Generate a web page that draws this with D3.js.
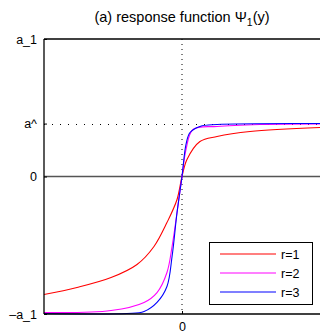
<!DOCTYPE html>
<html><head><meta charset="utf-8">
<script src="https://cdn.jsdelivr.net/npm/d3@7"></script>
<style>body{margin:0;background:#fff}svg{display:block;font-family:"Liberation Sans",Arial,sans-serif}</style>
</head><body>
<script>
const seriesNames = ["r=1","r=2","r=3"];
const seriesColors = ["#ff0000","#ff00ff","#0000ff"];
const xR1 = [-1,-0.761,-0.514,-0.326,-0.203,-0.109,-0.036,0,0.036,0.130,0.254,0.493,1];
const yR1 = [-0.858,-0.807,-0.735,-0.640,-0.509,-0.335,-0.167,0,0.124,0.255,0.291,0.327,0.356];
const xR2 = [-1,-0.514,-0.275,-0.181,-0.109,-0.072,-0.036,0,0.029,0.080,0.254,0.565,1];
const yR2 = [-0.989,-0.975,-0.916,-0.844,-0.698,-0.509,-0.262,0,0.196,0.342,0.364,0.378,0.382];
const xR3 = [-1,-0.399,-0.275,-0.181,-0.109,-0.072,-0.036,0,0.029,0.058,0.130,0.254,1];
const yR3 = [-0.996,-0.996,-0.982,-0.916,-0.800,-0.582,-0.262,0,0.233,0.320,0.364,0.378,0.385];
const yTickValues = [-1,0,0.385,1];
const yTickLabels = ["\u2013a_1","0","a^","a_1"];
const xTickValues = [0];
const xTickLabels = ["0"];
const aHat = 0.385;

const W=320,H=336;
const svg=d3.select("body").append("svg").attr("width",W).attr("height",H);
const x=d3.scaleLinear().domain([-1,1]).range([44,320]);
const y=d3.scaleLinear().domain([-1,1]).range([314,39]);

// title
const t=svg.append("text").attr("x",182).attr("y",22).attr("text-anchor","middle").attr("font-size",14.5).attr("fill","#000");
t.append("tspan").text("(a) response function \u03A8");
t.append("tspan").attr("font-size",10.5).attr("dy",4).text("1");
t.append("tspan").attr("dy",-4).text("(y)");

// reference lines
svg.append("line").attr("x1",x(-1)).attr("x2",x(1)).attr("y1",y(0)).attr("y2",y(0)).attr("stroke","#555").attr("stroke-width",1.3);
svg.append("line").attr("x1",x(0)).attr("x2",x(0)).attr("y1",y(1)).attr("y2",y(-1)).attr("stroke","#000").attr("stroke-width",1).attr("stroke-dasharray","1,4");
svg.append("line").attr("x1",x(-1)).attr("x2",x(1)).attr("y1",Math.round(y(aHat))+0.5).attr("y2",Math.round(y(aHat))+0.5).attr("stroke","#000").attr("stroke-width",1).attr("stroke-dasharray","1,7");

// curves
const line=d3.line().x(d=>x(d[0])).y(d=>y(d[1])).curve(d3.curveCatmullRom.alpha(0.5));
const series=[[xR1,yR1],[xR2,yR2],[xR3,yR3]];
series.forEach((s,i)=>{
  const pts=s[0].map((v,j)=>[v,s[1][j]]);
  svg.append("path").datum(pts).attr("d",line).attr("fill","none").attr("stroke",seriesColors[i]).attr("stroke-width",1.1);
});

// axes
const ya=d3.axisLeft(y).tickValues(yTickValues).tickFormat((d,i)=>yTickLabels[i]).tickSize(-3).tickPadding(7);
const yg=svg.append("g").attr("transform","translate(44,0)").call(ya);
yg.select(".domain").remove();
yg.selectAll("text").attr("font-size",12.5).attr("fill","#000").style("font-family","Liberation Sans, Arial, sans-serif");
const xa=d3.axisBottom(x).tickValues(xTickValues).tickFormat((d,i)=>xTickLabels[i]).tickSize(-3).tickPadding(8);
const xg=svg.append("g").attr("transform","translate(0,314)").call(xa);
xg.select(".domain").remove();
xg.selectAll("text").attr("font-size",12.5).attr("fill","#000").style("font-family","Liberation Sans, Arial, sans-serif");

// frame
svg.append("line").attr("x1",44).attr("x2",320).attr("y1",39).attr("y2",39).attr("stroke","#000").attr("stroke-width",1.3);
svg.append("line").attr("x1",44).attr("x2",320).attr("y1",314).attr("y2",314).attr("stroke","#000").attr("stroke-width",1.3);
svg.append("line").attr("x1",44).attr("x2",44).attr("y1",39).attr("y2",314).attr("stroke","#000").attr("stroke-width",1.3);

// legend
const lg=svg.append("g");
lg.append("rect").attr("x",209.5).attr("y",242.5).attr("width",103).attr("height",62).attr("fill","#fff").attr("stroke","#000").attr("stroke-width",1);
seriesNames.forEach((n,i)=>{
  const yy=254+i*19;
  lg.append("line").attr("x1",220).attr("x2",276).attr("y1",yy).attr("y2",yy).attr("stroke",seriesColors[i]).attr("stroke-width",1.1);
  lg.append("text").attr("x",281).attr("y",yy+4.5).attr("font-size",12.5).text(n);
});
</script>
</body></html>
